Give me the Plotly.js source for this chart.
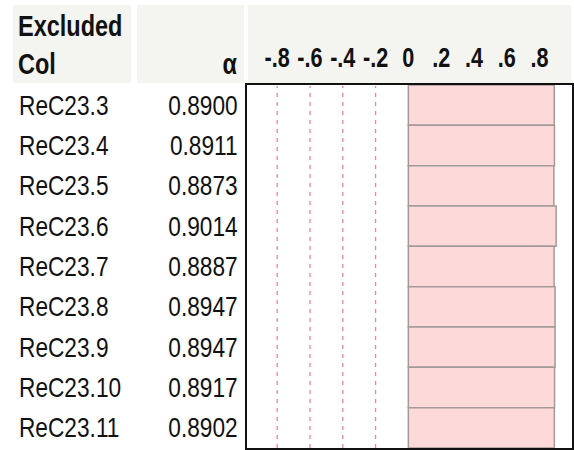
<!DOCTYPE html>
<html><head><meta charset="utf-8">
<script src="https://cdn.plot.ly/plotly-3.0.1.min.js"></script>
<style>html,body{margin:0;padding:0;background:#fff}#chart{width:574px;height:450px}</style>
</head><body><div id="chart"></div>
<script>
const columns = ["ReC23.3","ReC23.4","ReC23.5","ReC23.6","ReC23.7","ReC23.8","ReC23.9","ReC23.10","ReC23.11"];
const alphas = [0.8900,0.8911,0.8873,0.9014,0.8887,0.8947,0.8947,0.8917,0.8902];
const tickVals = [-0.8,-0.6,-0.4,-0.2,0,0.2,0.4,0.6,0.8];
const tickLabels = ["-.8","-.6","-.4","-.2","0",".2",".4",".6",".8"];
const dashedRefs = [-0.8,-0.6,-0.4,-0.2];

const FONT = "Liberation Sans, Arial, Helvetica, sans-serif";
const W = 574, H = 450;
const px = x => x / W, py = y => 1 - y / H;

const idx = columns.map((_, i) => i);

const bars = {
  type: 'bar', orientation: 'h',
  x: alphas, y: idx, width: 1,
  marker: {color: '#fdd9da', line: {color: '#a39999', width: 1.5}},
  hoverinfo: 'skip'
};

const shapes = [
  {type:'rect', xref:'paper', yref:'paper', x0:px(13), x1:px(131), y0:py(83), y1:py(5), fillcolor:'#f4f4f0', line:{width:0}, layer:'below'},
  {type:'rect', xref:'paper', yref:'paper', x0:px(137), x1:px(244), y0:py(83), y1:py(5), fillcolor:'#f4f4f0', line:{width:0}, layer:'below'},
  {type:'rect', xref:'paper', yref:'paper', x0:px(248), x1:px(571), y0:py(85), y1:py(5), fillcolor:'#f4f4f0', line:{width:0}, layer:'below'}
];
dashedRefs.forEach(v => shapes.push({type:'line', xref:'x', yref:'paper', x0:v, x1:v, y0:py(448), y1:py(86), line:{color:'#f0839a', width:1.3, dash:'4px,5px'}, layer:'above'}));

const annotations = [];
columns.forEach((c, i) => {
  annotations.push({xref:'paper', yref:'y', x:px(17), y:i, text:c, showarrow:false, xanchor:'left', yanchor:'middle', font:{family:FONT, size:28, color:'#111'}, name:'left'});
  annotations.push({xref:'paper', yref:'y', x:px(240), y:i, text:alphas[i].toFixed(4), showarrow:false, xanchor:'right', yanchor:'middle', font:{family:FONT, size:28, color:'#111'}, name:'right'});
});
annotations.push({xref:'paper', yref:'paper', x:px(16), y:py(26), text:'Excluded', showarrow:false, xanchor:'left', yanchor:'middle', font:{family:FONT, size:29, color:'#111', weight:'bold'}, name:'left'});
annotations.push({xref:'paper', yref:'paper', x:px(16), y:py(64), text:'Col', showarrow:false, xanchor:'left', yanchor:'middle', font:{family:FONT, size:29, color:'#111', weight:'bold'}, name:'left'});
annotations.push({xref:'paper', yref:'paper', x:px(239), y:py(64), text:'α', showarrow:false, xanchor:'right', yanchor:'middle', font:{family:FONT, size:29, color:'#111', weight:'bold'}, name:'right'});

const layout = {
  width: W, height: H,
  margin: {l:0, r:0, t:0, b:0},
  paper_bgcolor: '#ffffff', plot_bgcolor: '#ffffff',
  showlegend: false,
  bargap: 0,
  xaxis: {
    domain: [px(247), px(572)], range: [-0.984, 0.998],
    side: 'top', tickvals: tickVals, ticktext: tickLabels, tickangle: 0,
    tickfont: {family: FONT, size: 27, color: '#111', weight: 'bold'},
    ticklabelstandoff: 5,
    showgrid: false, zeroline: false, ticks: '',
    showline: true, mirror: true, linecolor: '#111', linewidth: 2,
    fixedrange: true
  },
  yaxis: {
    domain: [py(448), py(85)], range: [8.5, -0.5],
    showticklabels: false, showgrid: false, zeroline: false, ticks: '',
    showline: true, mirror: true, linecolor: '#111', linewidth: 2,
    fixedrange: true
  },
  shapes: shapes,
  annotations: annotations
};

// Narrow the glyphs (the reference uses a condensed face) while keeping the anchor edge fixed
function squeeze(el, factor, keep) {
  const b0 = el.getBBox();
  const len = el.getComputedTextLength();
  if (!len) return;
  el.setAttribute('textLength', (len * factor).toFixed(2));
  el.setAttribute('lengthAdjust', 'spacingAndGlyphs');
  const b1 = el.getBBox();
  let dx;
  if (keep === 'left') dx = b0.x - b1.x;
  else if (keep === 'right') dx = (b0.x + b0.width) - (b1.x + b1.width);
  else dx = (b0.x + b0.width / 2) - (b1.x + b1.width / 2);
  const x = parseFloat(el.getAttribute('x') || '0');
  el.setAttribute('x', (x + dx).toFixed(2));
}

Plotly.newPlot('chart', [bars], layout, {displayModeBar: false, staticPlot: true}).then(gd => {
  const annEls = gd.querySelectorAll('.annotation');
  annEls.forEach((g, i) => {
    const t = g.querySelector('text.annotation-text');
    const keep = annotations[i] ? annotations[i].name : 'left';
    if (t) squeeze(t, 0.81, keep);
  });
  gd.querySelectorAll('.xtick text').forEach(t => squeeze(t, 0.8, 'middle'));
});
</script>
</body></html>
